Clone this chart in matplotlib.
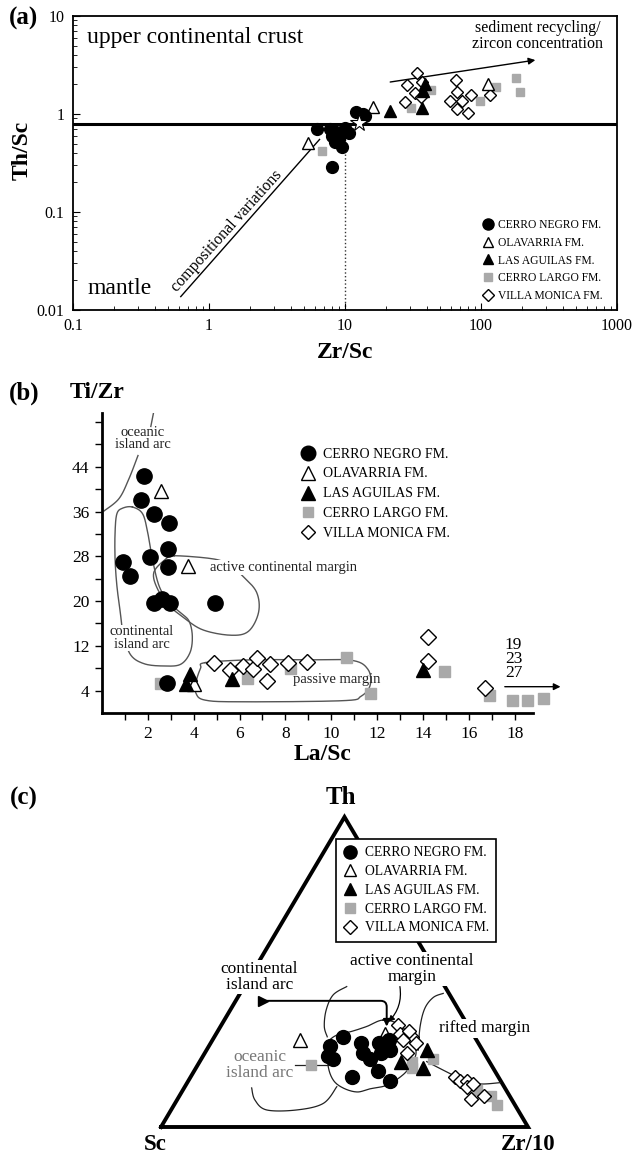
import numpy as np
import matplotlib
matplotlib.use("Agg")
import matplotlib.pyplot as plt
from matplotlib.lines import Line2D
from matplotlib.ticker import FixedLocator, FuncFormatter, LogLocator, NullFormatter

plt.rcParams['font.family'] = ['Liberation Serif', 'DejaVu Serif']

W, H = 632, 1159
GREY = '#a9a9a9'
LINE = '#555555'

FORMATIONS = ['CERRO NEGRO FM.', 'OLAVARRIA FM.', 'LAS AGUILAS FM.',
              'CERRO LARGO FM.', 'VILLA MONICA FM.']

# ---- (a) Th/Sc vs Zr/Sc ----
a_cn_x = [6.2, 7.7, 8.0, 8.4, 9.5, 8.0, 10.0, 10.7, 12.1, 13.6, 8.6, 9.0, 14.0]
a_cn_y = [0.70, 0.70, 0.60, 0.52, 0.46, 0.29, 0.72, 0.64, 1.05, 1.00, 0.65, 0.56, 0.95]
a_ol_x = [5.3, 16.2, 113]
a_ol_y = [0.51, 1.17, 2.0]
a_la_x = [21.3, 36.9, 37.7, 38.5]
a_la_y = [1.07, 1.15, 1.73, 2.0]
a_cl_x = [6.8, 30.8, 42.7, 98, 128, 182, 194]
a_cl_y = [0.42, 1.15, 1.76, 1.36, 1.88, 2.33, 1.68]
a_vm_x = [34, 28.8, 36.6, 32.5, 27.4, 36, 65, 67, 59, 72, 85, 67, 80, 116]
a_vm_y = [2.6, 1.98, 2.1, 1.64, 1.33, 1.49, 2.22, 1.67, 1.36, 1.36, 1.56, 1.12, 1.02, 1.56]
ucc_x, ucc_y = 12.7, 0.81
ucc_th_sc = 0.79

# ---- (b) Ti/Zr vs La/Sc ----
b_cn_x = [1.84, 1.70, 2.27, 2.93, 2.86, 2.10, 0.90, 1.23, 2.86, 2.27, 2.61, 2.97, 4.91, 2.83]
b_cn_y = [42.3, 38.0, 35.6, 34.0, 29.3, 27.8, 27.0, 24.5, 26.0, 19.7, 20.4, 19.6, 19.7, 5.3]
b_ol_x = [2.57, 3.73, 4.01]
b_ol_y = [39.7, 26.3, 5.1]
b_la_x = [3.83, 3.65, 5.68, 14.0]
b_la_y = [6.9, 5.1, 6.1, 7.6]
b_cl_x = [2.53, 6.33, 8.22, 10.65, 11.67, 14.93, 16.88, 17.9, 18.53, 19.23]
b_cl_y = [5.4, 6.3, 8.1, 10.0, 3.6, 7.5, 3.3, 2.4, 2.4, 2.7]
b_vm_x = [4.87, 5.57, 6.17, 6.57, 6.74, 7.32, 7.2, 8.1, 8.93, 14.2, 14.2, 16.7]
b_vm_y = [8.97, 7.6, 8.4, 7.8, 9.9, 8.8, 5.7, 9.0, 9.1, 13.6, 9.3, 4.4]

# field outlines (La/Sc, Ti/Zr)
b_oia_top = [(2.26, 53.9), (2.13, 51.2)]
b_oia_low = [(1.57, 46.0), (1.17, 41.8), (0.74, 38.3), (0.09, 36.1)]
b_cia = [(1.33, 36.8), (0.90, 36.6), (0.65, 35.6), (0.57, 32.3), (0.57, 27.5),
         (0.65, 22.7), (0.80, 17.9), (0.91, 14.6), (1.23, 10.5), (1.84, 8.8),
         (2.71, 8.4), (3.43, 8.7), (3.84, 10.8), (3.94, 13.7), (3.80, 16.4),
         (3.43, 17.9), (2.93, 19.7), (2.49, 22.7), (2.20, 27.5), (1.99, 32.3),
         (1.77, 35.6)]
b_acm = [(3.15, 28.1), (4.90, 27.5), (5.6, 26.3), (6.13, 24.5), (6.74, 21.6),
         (6.83, 18.0), (6.39, 14.6), (5.60, 13.9), (4.37, 14.9), (3.48, 17.3),
         (2.96, 19.1), (2.43, 22.1), (2.26, 25.1), (2.78, 27.5)]
b_pm = [(4.5, 9.0), (6.5, 9.5), (8.9, 9.5), (10.9, 9.4), (11.6, 7.8), (11.7, 5.0),
        (11.3, 3.0), (10.5, 2.2), (6.0, 2.0), (4.5, 2.3), (4.1, 3.5), (4.1, 5.5),
        (4.3, 8.0)]
off_scale_labels = '19\n23\n27'

# ---- (c) Th - Sc - Zr/10 ternary (percent) ----
c_cn_th = [29, 26, 23, 22, 27, 24, 22, 27, 24, 28, 25, 16, 18, 15]
c_cn_sc = [36, 41, 43, 42, 32, 33, 32, 27, 28, 24, 25, 40, 32, 30]
c_cn_zr = [35, 33, 34, 36, 41, 43, 46, 46, 48, 48, 50, 44, 50, 55]
c_ol_th = [28, 30]
c_ol_sc = [48, 24]
c_ol_zr = [24, 46]
c_la_th = [25, 21, 19]
c_la_sc = [15, 24, 19]
c_la_zr = [60, 55, 62]
c_cl_th = [20, 21, 22, 19, 12, 10, 7]
c_cl_sc = [49, 21, 15, 22, 8, 5, 5]
c_cl_zr = [31, 58, 63, 59, 80, 85, 88]
c_vm_th = [33, 30, 29, 28, 27, 24, 31, 16, 15, 15, 13, 14, 9, 10]
c_vm_sc = [19, 20, 17, 20, 17, 21, 17, 12, 11, 9, 10, 8, 11, 7]
c_vm_zr = [48, 50, 54, 52, 56, 55, 52, 72, 74, 76, 77, 78, 80, 83]

# field outlines in ternary cartesian units (x across base, y = Th fraction)
c_core = [(0.605, 0.345), (0.560, 0.324), (0.515, 0.307), (0.488, 0.302),
          (0.455, 0.271), (0.455, 0.200), (0.469, 0.152), (0.496, 0.126),
          (0.534, 0.113), (0.569, 0.123), (0.616, 0.135), (0.659, 0.168),
          (0.681, 0.200), (0.695, 0.239), (0.684, 0.281), (0.651, 0.329)]
c_oia_top = [(0.506, 0.453), (0.469, 0.426), (0.450, 0.377), (0.445, 0.324),
             (0.453, 0.291)]
c_oia_low = [(0.479, 0.130), (0.442, 0.076), (0.370, 0.055), (0.288, 0.055),
             (0.256, 0.087), (0.247, 0.126)]
c_oia_tick = [(0.365, 0.200), (0.455, 0.200)]
c_rift_up = [(0.701, 0.248), (0.706, 0.324), (0.719, 0.383), (0.742, 0.418),
             (0.769, 0.431)]
c_rift_low = [(0.724, 0.211), (0.778, 0.178), (0.824, 0.152), (0.869, 0.139),
              (0.924, 0.143)]


def smooth(pts, closed=False, n=16):
    p = np.asarray(pts, float)
    if closed:
        p = np.vstack([p[-1], p, p[0], p[1]])
    else:
        p = np.vstack([p[0], p, p[-1]])
    t = np.linspace(0, 1, n, endpoint=False)[:, None]
    out = []
    for i in range(1, len(p) - 2):
        p0, p1, p2, p3 = p[i - 1], p[i], p[i + 1], p[i + 2]
        out.append(0.5 * (2 * p1 + (-p0 + p2) * t + (2 * p0 - 5 * p1 + 4 * p2 - p3) * t ** 2
                          + (-p0 + 3 * p1 - 3 * p2 + p3) * t ** 3))
    out.append(p[-2][None])
    return np.vstack(out)


def tern(th, sc, zr):
    th, sc, zr = (np.asarray(v, float) for v in (th, sc, zr))
    tot = th + sc + zr
    return (zr + th / 2) / tot, th / tot


STYLE = {
    'CERRO NEGRO FM.': dict(marker='o', mfc='black', mec='black', scale=1.0),
    'OLAVARRIA FM.': dict(marker='^', mfc='white', mec='black', scale=0.95),
    'LAS AGUILAS FM.': dict(marker='^', mfc='black', mec='black', scale=0.95),
    'CERRO LARGO FM.': dict(marker='s', mfc=GREY, mec=GREY, scale=0.72),
    'VILLA MONICA FM.': dict(marker='D', mfc='white', mec='black', scale=0.72),
}


def draw(ax, name, x, y, size, **kw):
    s = STYLE[name]
    ax.plot(x, y, ls='none', marker=s['marker'], ms=size * s['scale'],
            mfc=s['mfc'], mec=s['mec'], mew=1.0, **kw)


def handles(size):
    return [Line2D([], [], ls='none', marker=STYLE[n]['marker'], ms=size * STYLE[n]['scale'],
                   mfc=STYLE[n]['mfc'], mec=STYLE[n]['mec'], mew=1.0, label=n)
            for n in FORMATIONS]


def ftext(px, py, s, **kw):
    fig.text(px / W, 1 - py / H, s, ha='center', va='center', **kw)


fig = plt.figure(figsize=(W / 100, H / 100), dpi=100)

# ================= panel (a) =================
ax = fig.add_axes([73 / W, 1 - 310 / H, 544 / W, 294 / H])
ax.set_xscale('log')
ax.set_yscale('log')
ax.set_xlim(0.1, 1000)
ax.set_ylim(0.01, 10)
ax.xaxis.set_major_locator(FixedLocator([0.1, 1, 10, 100, 1000]))
ax.yaxis.set_major_locator(FixedLocator([0.01, 0.1, 1, 10]))
fmt = FuncFormatter(lambda v, _: f'{v:g}')
ax.xaxis.set_major_formatter(fmt)
ax.yaxis.set_major_formatter(fmt)
ax.xaxis.set_minor_locator(LogLocator(subs=np.arange(2, 10)))
ax.yaxis.set_minor_locator(LogLocator(subs=np.arange(2, 10)))
ax.xaxis.set_minor_formatter(NullFormatter())
ax.yaxis.set_minor_formatter(NullFormatter())
ax.tick_params(which='both', direction='in', top=False, right=False, labelsize=11.5)
ax.tick_params(which='major', length=5, pad=6)
ax.tick_params(which='minor', length=3)
for sp in ax.spines.values():
    sp.set_linewidth(1.3)

ax.axhline(ucc_th_sc, color='black', lw=2.2, zorder=2)
ax.plot([10, 10], [0.01, ucc_th_sc], ls=':', color='#333333', lw=1.0, zorder=1)
ax.plot([0.62, 6.5], [0.0137, 0.55], color='black', lw=1.0, zorder=1)
ax.annotate('', xy=(251, 3.55), xytext=(21.5, 2.12),
            arrowprops=dict(arrowstyle='-|>', color='black', lw=1.0,
                            mutation_scale=10, shrinkA=0, shrinkB=0))
ax.text(0.127, 6.1, 'upper continental crust', fontsize=17, ha='left', va='center')
ax.text(0.127, 0.0164, 'mantle', fontsize=17, ha='left', va='center')
ax.text(262, 6.2, 'sediment recycling/\nzircon concentration', fontsize=11.5,
        ha='center', va='center', linespacing=1.0)
ax.text(1.36, 0.064, 'compositional variations', fontsize=11.5, rotation=48,
        rotation_mode='anchor', ha='center', va='center')

draw(ax, 'CERRO LARGO FM.', a_cl_x, a_cl_y, 8.5, zorder=3)
draw(ax, 'VILLA MONICA FM.', a_vm_x, a_vm_y, 8.5, zorder=3)
draw(ax, 'OLAVARRIA FM.', a_ol_x, a_ol_y, 8.5, zorder=3)
draw(ax, 'LAS AGUILAS FM.', a_la_x, a_la_y, 8.5, zorder=3)
draw(ax, 'CERRO NEGRO FM.', a_cn_x, a_cn_y, 8.5, zorder=4)
ax.plot(ucc_x, ucc_y, marker='*', ms=13, mfc='white', mec='black', mew=0.8, zorder=5)

ax.legend(handles=handles(8), loc='lower left', bbox_to_anchor=(0.752, 0.027),
          frameon=False, fontsize=8.3, handlelength=1.0, handletextpad=0.4,
          labelspacing=0.5, borderpad=0, borderaxespad=0)

ftext(23, 18, '(a)', fontsize=18, fontweight='bold')
ftext(22, 150, 'Th/Sc', fontsize=17, fontweight='bold', rotation=90)
ftext(345, 352, 'Zr/Sc', fontsize=17, fontweight='bold')

# ================= panel (b) =================
ax = fig.add_axes([102 / W, 1 - 713 / H, 431 / W, 300 / H])
ax.set_xlim(0, 18.8)
ax.set_ylim(0, 53.6)
for side in ('top', 'right'):
    ax.spines[side].set_visible(False)
for side in ('left', 'bottom'):
    ax.spines[side].set_linewidth(2.0)
ax.set_xticks(np.arange(1, 19))
ax.set_xticklabels([str(v) if v % 2 == 0 else '' for v in range(1, 19)])
ax.set_yticks(np.arange(4, 53, 4))
ax.set_yticklabels([str(v) if (v - 4) % 8 == 0 and v <= 44 else '' for v in range(4, 53, 4)])
ax.tick_params(direction='out', length=5, width=1.0, labelsize=12.5, pad=4)

for seg in (b_oia_top, b_oia_low):
    xy = smooth(seg)
    ax.plot(xy[:, 0], xy[:, 1], color=LINE, lw=1.0, zorder=1)
for loop in (b_cia, b_acm, b_pm):
    xy = smooth(loop, closed=True)
    ax.plot(xy[:, 0], xy[:, 1], color=LINE, lw=1.0, zorder=1)

box = dict(facecolor='white', edgecolor='none', pad=0.5)
ax.text(1.77, 49.0, 'oceanic\nisland arc', fontsize=10.5, ha='center', va='center',
        linespacing=0.95, color='#222222')
ax.text(1.74, 13.4, 'continental\nisland arc', fontsize=10.5, ha='center', va='center',
        linespacing=0.95, color='#222222', bbox=box, zorder=2)
ax.text(7.9, 26.0, 'active continental margin', fontsize=10.5, ha='center',
        va='center', color='#222222', bbox=box, zorder=2)
ax.text(10.25, 6.0, 'passive margin', fontsize=10.5, ha='center', va='center',
        color='#222222', zorder=2)
ax.text(17.57, 9.6, off_scale_labels, fontsize=12.5, ha='left', va='center',
        linespacing=0.85)
ax.annotate('', xy=(20.0, 4.7), xytext=(17.57, 4.7), annotation_clip=False,
            arrowprops=dict(arrowstyle='-|>', color='black', lw=1.0,
                            mutation_scale=10, shrinkA=0, shrinkB=0))

draw(ax, 'CERRO LARGO FM.', b_cl_x, b_cl_y, 11, zorder=3, clip_on=False)
draw(ax, 'CERRO NEGRO FM.', b_cn_x, b_cn_y, 11, zorder=3)
draw(ax, 'VILLA MONICA FM.', b_vm_x, b_vm_y, 11, zorder=4)
draw(ax, 'OLAVARRIA FM.', b_ol_x, b_ol_y, 11, zorder=4)
draw(ax, 'LAS AGUILAS FM.', b_la_x, b_la_y, 11, zorder=4)

ax.legend(handles=handles(10.5), loc='upper left', bbox_to_anchor=(0.462, 0.885),
          frameon=False, fontsize=10, handlelength=1.0, handletextpad=0.55,
          labelspacing=0.5, borderpad=0, borderaxespad=0)

ftext(24, 393, '(b)', fontsize=18, fontweight='bold')
ftext(97, 393, 'Ti/Zr', fontsize=17, fontweight='bold')
ftext(322, 755, 'La/Sc', fontsize=17, fontweight='bold')

# ================= panel (c) =================
ax = fig.add_axes([161 / W, 1 - 1127 / H, 367 / W, 310 / H])
ax.set_xlim(0, 1)
ax.set_ylim(0, 1)
ax.axis('off')
ax.plot([0, 0.5, 1, 0], [0, 1, 0, 0], color='black', lw=2.8,
        solid_joinstyle='miter', clip_on=False, zorder=1)

xy = smooth(c_core, closed=True)
ax.plot(xy[:, 0], xy[:, 1], color='#222222', lw=0.9, zorder=2)
for seg in (c_oia_top, c_oia_low, c_rift_up, c_rift_low, c_oia_tick):
    xy = smooth(seg)
    ax.plot(xy[:, 0], xy[:, 1], color='#222222', lw=0.9, zorder=2)

ax.annotate('', xy=(0.615, 0.324), xytext=(0.279, 0.407),
            arrowprops=dict(arrowstyle='-|>', color='black', lw=1.4, mutation_scale=10,
                            shrinkA=0, shrinkB=0,
                            connectionstyle='angle,angleA=0,angleB=90,rad=6'))
ax.plot(0.279, 0.407, marker='>', ms=7, color='black', zorder=3)
ax.annotate('', xy=(0.619, 0.339), xytext=(0.651, 0.453),
            arrowprops=dict(arrowstyle='-|>', color='black', lw=0.9, mutation_scale=9,
                            shrinkA=0, shrinkB=0, connectionstyle='arc3,rad=-0.25'))

box = dict(facecolor='white', edgecolor='none', pad=1.0)
ax.text(0.268, 0.484, 'continental\nisland arc', fontsize=12.5, ha='center', va='center',
        linespacing=0.95, bbox=box, zorder=4)
ax.text(0.683, 0.510, 'active continental\nmargin', fontsize=12.5, ha='center',
        va='center', linespacing=0.95, bbox=box, zorder=4)
ax.text(0.883, 0.318, 'rifted margin', fontsize=12.5, ha='center', va='center',
        bbox=box, zorder=4)
ax.text(0.270, 0.200, 'oceanic\nisland arc', fontsize=12.5, ha='center', va='center',
        linespacing=0.95, color='#777777', zorder=4)

series_c = [
    ('CERRO LARGO FM.', c_cl_th, c_cl_sc, c_cl_zr),
    ('VILLA MONICA FM.', c_vm_th, c_vm_sc, c_vm_zr),
    ('OLAVARRIA FM.', c_ol_th, c_ol_sc, c_ol_zr),
    ('LAS AGUILAS FM.', c_la_th, c_la_sc, c_la_zr),
    ('CERRO NEGRO FM.', c_cn_th, c_cn_sc, c_cn_zr),
]
for name, th, sc, zr in series_c:
    x, y = tern(th, sc, zr)
    draw(ax, name, x, y, 10, zorder=5)

leg = ax.legend(handles=handles(9.5), loc='upper left', bbox_to_anchor=(0.4755, 0.929),
                frameon=True, fancybox=False, framealpha=1, edgecolor='black',
                fontsize=9.8, handlelength=1.0, handletextpad=0.6,
                labelspacing=0.42, borderpad=0.55, borderaxespad=0)
leg.get_frame().set_linewidth(1.2)
leg.set_zorder(6)

ftext(24, 798, '(c)', fontsize=18, fontweight='bold')
ftext(341, 798, 'Th', fontsize=18, fontweight='bold')
ftext(155, 1145, 'Sc', fontsize=16.5, fontweight='bold')
ftext(528, 1145, 'Zr/10', fontsize=16.5, fontweight='bold')

fig.savefig('out.png', dpi=100)
